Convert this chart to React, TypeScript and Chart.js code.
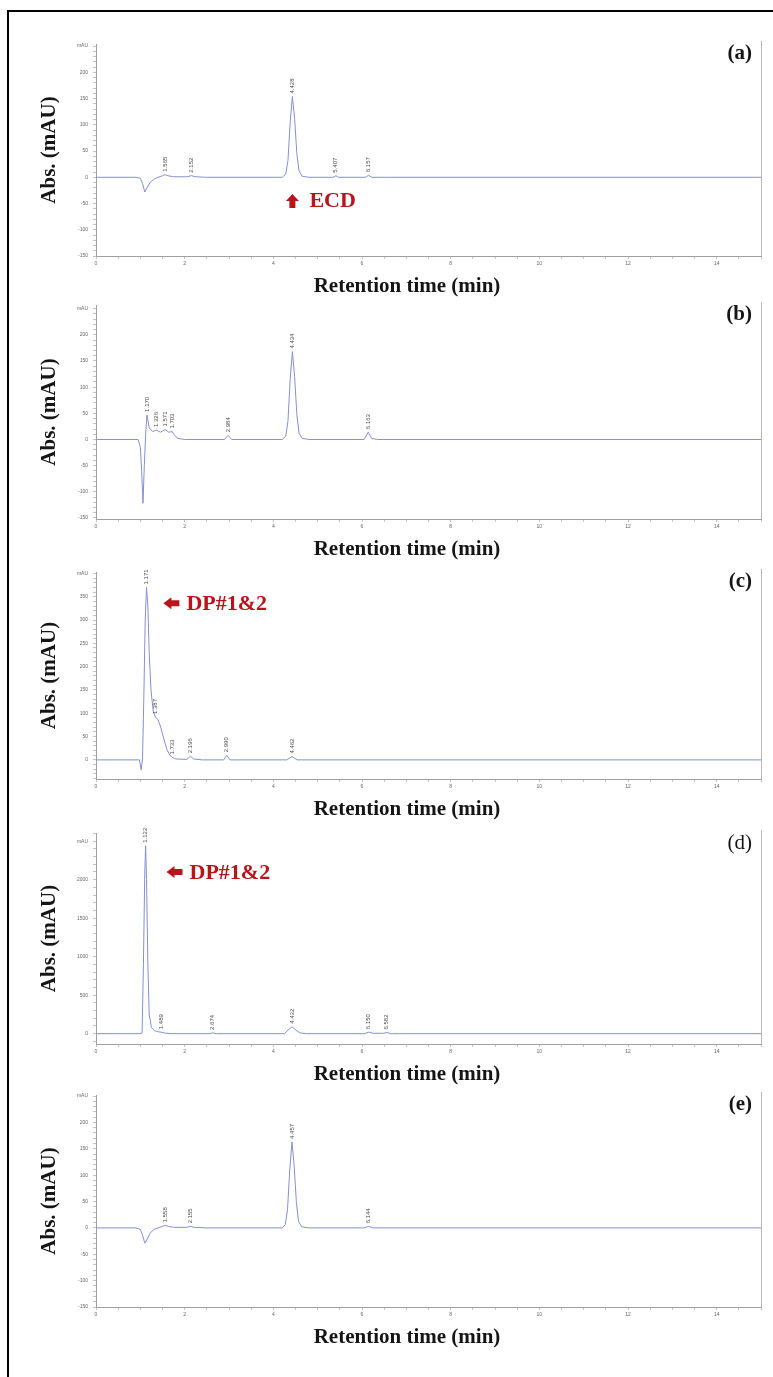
import React, { useEffect, useRef } from 'react';
import { Chart, registerables } from 'chart.js';

Chart.register(...registerables);

// ---------------- data ----------------
const xTickLabels = [0, 2, 4, 6, 8, 10, 12, 14];

// (a) ECD standard
const timesA = [0, 0.9, 1.0, 1.05, 1.1, 1.15, 1.22, 1.3, 1.4, 1.5, 1.56, 1.62, 1.75, 2.05, 2.15, 2.25, 2.5, 4.2, 4.28, 4.33, 4.38, 4.43, 4.48, 4.53, 4.58, 4.65, 4.8, 5.35, 5.41, 5.47, 6.08, 6.15, 6.22, 6.5, 15];
const absA = [0, 0, -2, -12, -28, -20, -10, -4, 0, 3, 5, 3, 1, 1, 3, 1, 0, 0, 6, 32, 105, 154, 112, 45, 12, 2, 0, 0, 3, 0, 0, 4, 0, 0, 0];
const peakLabelsA = ['1.565', '2.152', '4.428', '5.407', '6.157'];
const peakTimesA = [1.56, 2.15, 4.43, 5.41, 6.15];
const peakValuesA = [5, 3, 154, 3, 4];

// (b)
const timesB = [0, 0.95, 1.0, 1.03, 1.06, 1.09, 1.12, 1.15, 1.2, 1.28, 1.36, 1.45, 1.5, 1.56, 1.64, 1.72, 1.77, 1.85, 2.0, 2.9, 2.98, 3.06, 4.2, 4.28, 4.33, 4.38, 4.43, 4.48, 4.53, 4.58, 4.65, 4.8, 6.05, 6.14, 6.22, 6.35, 15];
const absB = [0, 0, -15, -60, -122, -50, 10, 47, 22, 15, 18, 14, 16, 19, 14, 15, 8, 2, 0, 0, 8, 0, 0, 6, 35, 115, 168, 120, 48, 12, 2, 0, 0, 14, 2, 0, 0];
const peakLabelsB = ['1.170', '1.326', '1.571', '1.703', '2.984', '4.434', '6.163'];
const peakTimesB = [1.15, 1.36, 1.56, 1.72, 2.98, 4.43, 6.14];
const peakValuesB = [47, 18, 19, 15, 8, 168, 14];

// (c)
const timesC = [0, 0.98, 1.02, 1.05, 1.08, 1.11, 1.14, 1.17, 1.2, 1.24, 1.29, 1.34, 1.4, 1.46, 1.53, 1.6, 1.68, 1.73, 1.8, 2.05, 2.13, 2.2, 2.4, 2.88, 2.95, 3.02, 3.2, 4.3, 4.42, 4.54, 15];
const absC = [0, 0, -22, 5, 140, 300, 370, 330, 230, 150, 105, 92, 86, 70, 45, 22, 8, 5, 2, 1, 8, 2, 0, 0, 10, 0, 0, 0, 7, 0, 0];
const peakLabelsC = ['1.171', '1.387', '1.733', '2.196', '2.990', '4.462'];
const peakTimesC = [1.14, 1.34, 1.72, 2.13, 2.95, 4.42];
const peakValuesC = [370, 92, 5, 8, 10, 7];

// (d)
const timesD = [0, 0.98, 1.04, 1.07, 1.1, 1.12, 1.14, 1.17, 1.2, 1.25, 1.32, 1.4, 1.47, 1.55, 1.7, 2.55, 2.63, 2.72, 3.0, 4.25, 4.33, 4.42, 4.51, 4.6, 4.75, 6.05, 6.15, 6.25, 6.48, 6.56, 6.65, 6.85, 15];
const absD = [0, 0, 10, 900, 2100, 2440, 2000, 900, 250, 80, 40, 25, 20, 8, 0, 0, 10, 0, 0, 0, 45, 90, 45, 10, 0, 0, 20, 5, 5, 15, 0, 0, 0];
const peakLabelsD = ['1.122', '1.489', '2.674', '4.432', '6.150', '6.582'];
const peakTimesD = [1.12, 1.47, 2.63, 4.42, 6.15, 6.56];
const peakValuesD = [2440, 20, 10, 90, 20, 15];

// (e)
const timesE = [0, 0.9, 1.0, 1.05, 1.1, 1.15, 1.22, 1.3, 1.4, 1.5, 1.56, 1.63, 1.75, 2.05, 2.13, 2.22, 2.5, 4.2, 4.27, 4.32, 4.37, 4.42, 4.47, 4.52, 4.57, 4.64, 4.8, 6.05, 6.15, 6.25, 15];
const absE = [0, 0, -3, -14, -29, -22, -10, -3, 0, 3, 5, 3, 1, 1, 3, 1, 0, 0, 6, 35, 110, 163, 118, 48, 12, 2, 0, 0, 3, 0, 0];
const peakLabelsE = ['1.558', '2.155', '4.457', '6.144'];
const peakTimesE = [1.56, 2.13, 4.42, 6.15];
const peakValuesE = [5, 3, 163, 3];

const Y_TITLE = 'Abs. (mAU)';
const X_TITLE = 'Retention time (min)';

// ---------------- layout / style ----------------
const TITLE_FONT = 'bold 21px "Liberation Serif", "Times New Roman", serif';
const NOTE_FONT = 'bold 22px "Liberation Serif", "Times New Roman", serif';
const NOTE_COLOR = '#b8141c';
const LINE_COLOR = '#8390d4';

type Note = { kind: 'up' | 'left'; t: number; v: number; text: string };
type PanelCfg = {
  letter: string; letterWeight: string;
  times: number[]; values: number[];
  peakLabels: string[]; peakTimes: number[]; peakValues: number[];
  yMin: number; yMax: number; yStep: number; yLabelStep: number; mauAt: number;
  top: number; bottom: number; note?: Note;
};

const PANELS: PanelCfg[] = [
  { letter: '(a)', letterWeight: 'bold', times: timesA, values: absA, peakLabels: peakLabelsA, peakTimes: peakTimesA, peakValues: peakValuesA,
    yMin: -150, yMax: 254, yStep: 10, yLabelStep: 50, mauAt: 250, top: 44, bottom: 256,
    note: { kind: 'up', t: 4.43, v: -32, text: 'ECD' } },
  { letter: '(b)', letterWeight: 'bold', times: timesB, values: absB, peakLabels: peakLabelsB, peakTimes: peakTimesB, peakValues: peakValuesB,
    yMin: -152, yMax: 257, yStep: 10, yLabelStep: 50, mauAt: 250, top: 305, bottom: 519 },
  { letter: '(c)', letterWeight: 'bold', times: timesC, values: absC, peakLabels: peakLabelsC, peakTimes: peakTimesC, peakValues: peakValuesC,
    yMin: -41, yMax: 403, yStep: 10, yLabelStep: 50, mauAt: 400, top: 572, bottom: 779,
    note: { kind: 'left', t: 1.52, v: 336, text: 'DP#1&2' } },
  { letter: '(d)', letterWeight: 'normal', times: timesD, values: absD, peakLabels: peakLabelsD, peakTimes: peakTimesD, peakValues: peakValuesD,
    yMin: -134, yMax: 2606, yStep: 100, yLabelStep: 500, mauAt: 2500, top: 833, bottom: 1044,
    note: { kind: 'left', t: 1.59, v: 2100, text: 'DP#1&2' } },
  { letter: '(e)', letterWeight: 'bold', times: timesE, values: absE, peakLabels: peakLabelsE, peakTimes: peakTimesE, peakValues: peakValuesE,
    yMin: -150, yMax: 252, yStep: 10, yLabelStep: 50, mauAt: 250, top: 1095, bottom: 1307 },
];

const PAD_TOP = 30;
const PAD_BOTTOM_TOTAL = 50;
const X_SCALE_H = 20;
const Y_SCALE_W = 40;

function makeOverlay(cfg: PanelCfg) {
  return {
    id: 'overlay',
    afterDraw(chart: any) {
      const { ctx, chartArea: a, scales } = chart;
      const xs = scales.x, ys = scales.y;
      ctx.save();
      // right frame line
      ctx.strokeStyle = '#b8b8b8';
      ctx.lineWidth = 1;
      ctx.beginPath();
      ctx.moveTo(Math.round(a.right) + 0.5, a.top - 3);
      ctx.lineTo(Math.round(a.right) + 0.5, a.bottom);
      ctx.stroke();

      // peak retention-time labels
      ctx.fillStyle = '#4a4a4a';
      ctx.font = '6px "Liberation Sans", Arial, sans-serif';
      cfg.peakTimes.forEach((t, i) => {
        const px = xs.getPixelForValue(t);
        const py = ys.getPixelForValue(cfg.peakValues[i]) - 3;
        ctx.save();
        ctx.translate(px, py);
        ctx.rotate(-Math.PI / 2);
        ctx.textAlign = 'left';
        ctx.textBaseline = 'middle';
        ctx.fillText(cfg.peakLabels[i], 0, 0);
        ctx.restore();
      });

      // axis titles
      ctx.fillStyle = '#151515';
      ctx.font = TITLE_FONT;
      ctx.save();
      ctx.translate(50, (a.top + a.bottom) / 2);
      ctx.rotate(-Math.PI / 2);
      ctx.textAlign = 'center';
      ctx.textBaseline = 'middle';
      ctx.fillText(Y_TITLE, 0, 0);
      ctx.restore();
      ctx.textAlign = 'center';
      ctx.textBaseline = 'alphabetic';
      ctx.fillText(X_TITLE, 407, a.bottom + 36);

      // panel letter
      ctx.font = `${cfg.letterWeight} 21px "Liberation Serif", "Times New Roman", serif`;
      ctx.textAlign = 'right';
      ctx.textBaseline = 'middle';
      ctx.fillText(cfg.letter, 752, a.top + 10);

      // red note
      if (cfg.note) {
        const n = cfg.note;
        const x = xs.getPixelForValue(n.t);
        const y = ys.getPixelForValue(n.v);
        ctx.fillStyle = NOTE_COLOR;
        ctx.beginPath();
        if (n.kind === 'up') {
          ctx.moveTo(x, y);
          ctx.lineTo(x + 6.5, y + 7);
          ctx.lineTo(x + 3, y + 7);
          ctx.lineTo(x + 3, y + 14);
          ctx.lineTo(x - 3, y + 14);
          ctx.lineTo(x - 3, y + 7);
          ctx.lineTo(x - 6.5, y + 7);
        } else {
          ctx.moveTo(x, y);
          ctx.lineTo(x + 8, y - 6);
          ctx.lineTo(x + 8, y - 3);
          ctx.lineTo(x + 16, y - 3);
          ctx.lineTo(x + 16, y + 3);
          ctx.lineTo(x + 8, y + 3);
          ctx.lineTo(x + 8, y + 6);
        }
        ctx.closePath();
        ctx.fill();
        ctx.font = NOTE_FONT;
        ctx.textAlign = 'left';
        ctx.textBaseline = 'alphabetic';
        if (n.kind === 'up') ctx.fillText(n.text, x + 17, y + 13);
        else ctx.fillText(n.text, x + 23, y + 7);
      }
      ctx.restore();
    },
  };
}

function Panel({ cfg }: { cfg: PanelCfg }) {
  const ref = useRef<HTMLCanvasElement>(null);
  const canvasTop = cfg.top - PAD_TOP;
  const height = cfg.bottom + PAD_BOTTOM_TOTAL - canvasTop;

  useEffect(() => {
    const chart = new Chart(ref.current as HTMLCanvasElement, {
      type: 'line',
      data: {
        datasets: [
          {
            data: cfg.times.map((t, i) => ({ x: t, y: cfg.values[i] })),
            borderColor: LINE_COLOR,
            borderWidth: 1,
            pointRadius: 0,
            tension: 0,
            fill: false,
          },
        ],
      },
      options: {
        responsive: false,
        maintainAspectRatio: false,
        animation: false,
        devicePixelRatio: 1,
        events: [],
        layout: { padding: { top: PAD_TOP, bottom: PAD_BOTTOM_TOTAL - X_SCALE_H, left: 96 - Y_SCALE_W, right: 773 - 761 } },
        plugins: { legend: { display: false }, tooltip: { enabled: false }, title: { display: false } },
        scales: {
          x: {
            type: 'linear',
            min: 0,
            max: 15,
            afterFit: (s: any) => { s.height = X_SCALE_H; },
            ticks: {
              stepSize: 0.5,
              autoSkip: false,
              maxRotation: 0,
              includeBounds: false,
              padding: 2,
              color: '#666',
              font: { size: 5, family: '"Liberation Sans", Arial, sans-serif' },
              callback: (v: any) => (xTickLabels.includes(Number(v)) ? String(v) : ''),
            },
            grid: { drawOnChartArea: false, drawTicks: true, tickLength: 3, color: '#c4c4c4' },
            border: { display: true, color: '#a0a0a0', width: 1 },
          },
          y: {
            type: 'linear',
            min: cfg.yMin,
            max: cfg.yMax,
            afterFit: (s: any) => { s.width = Y_SCALE_W; },
            ticks: {
              stepSize: cfg.yStep,
              autoSkip: false,
              includeBounds: false,
              padding: 5,
              color: '#666',
              font: { size: 5, family: '"Liberation Sans", Arial, sans-serif' },
              callback: (v: any) => {
                const n = Number(v);
                if (n === cfg.mauAt) return 'mAU';
                return n % cfg.yLabelStep === 0 ? String(n) : '';
              },
            },
            grid: { drawOnChartArea: false, drawTicks: true, tickLength: 3, color: '#c4c4c4' },
            border: { display: true, color: '#a0a0a0', width: 1 },
          },
        },
      },
      plugins: [makeOverlay(cfg)],
    } as any);
    return () => chart.destroy();
  }, [cfg]);

  return (
    <canvas
      ref={ref}
      width={773}
      height={height}
      style={{ position: 'absolute', left: 0, top: canvasTop, width: 773, height }}
    />
  );
}

export default function App() {
  return (
    <div style={{ position: 'absolute', left: 0, top: 0, width: 773, height: 1377, background: '#fff', overflow: 'hidden' }}>
      <div
        style={{
          position: 'absolute', left: 7, top: 10, width: 800, height: 1400,
          borderLeft: '2px solid #000', borderTop: '2px solid #000',
        }}
      />
      {PANELS.map((p) => (
        <Panel key={p.letter} cfg={p} />
      ))}
    </div>
  );
}
